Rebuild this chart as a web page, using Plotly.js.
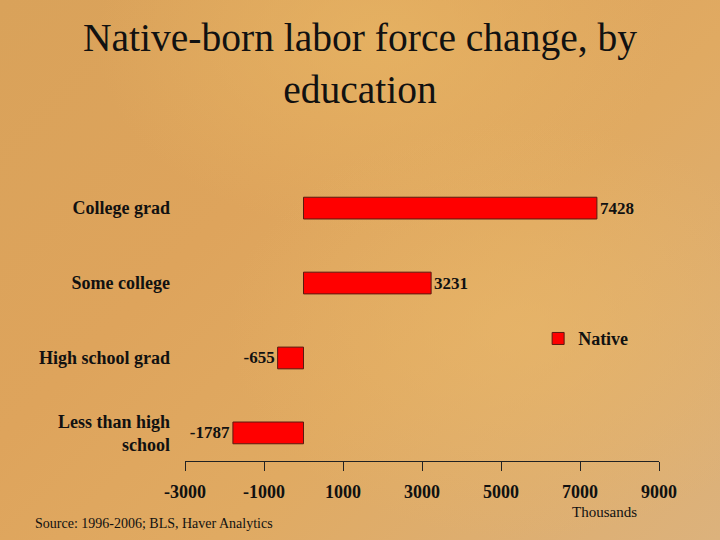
<!DOCTYPE html>
<html>
<head>
<meta charset="utf-8">
<script src="https://cdn.plot.ly/plotly-3.0.1.min.js"></script>
<style>
  html, body { margin: 0; padding: 0; width: 720px; height: 540px; overflow: hidden; }
  body {
    background:
      radial-gradient(ellipse 420px 300px at 520px 330px, rgba(235,185,105,0.55), rgba(235,185,105,0) 70%),
      radial-gradient(ellipse 380px 260px at 380px 40px, rgba(232,182,100,0.7), rgba(232,182,100,0) 75%),
      linear-gradient(135deg, #d9a25a 0%, #dea45c 35%, #e0aa62 60%, #dcb27c 100%);
  }
  #chart { width: 720px; height: 540px; }
</style>
</head>
<body>
<div id="chart"></div>
<script>
const categories = ["Less than high<br>school", "High school grad", "Some college", "College grad"];
const nativeValues = [-1787, -655, 3231, 7428];
const seriesName = "Native";
const xTicks = [-3000, -1000, 1000, 3000, 5000, 7000, 9000];

const serif = "Liberation Serif, Times New Roman, serif";

const trace = {
  type: "bar",
  orientation: "h",
  y: categories,
  x: nativeValues,
  name: seriesName,
  text: nativeValues.map(String),
  textposition: "outside",
  cliponaxis: false,
  textfont: { family: serif, size: 17, color: "#111", weight: "bold" },
  marker: { color: "#ff0000", line: { color: "#5a1a10", width: 1 } },
  width: 0.29
};

const layout = {
  width: 720, height: 540,
  paper_bgcolor: "rgba(0,0,0,0)",
  plot_bgcolor: "rgba(0,0,0,0)",
  margin: { l: 185, r: 61, t: 180, b: 79 },
  title: {
    text: "Native-born labor force change, by<br>education",
    font: { family: serif, size: 39.5, color: "#111" },
    x: 0.5, xanchor: "center", yref: "container", y: 0.905, yanchor: "top"
  },
  showlegend: true,
  legend: {
    x: 0.745, y: 0.435, xanchor: "left", yanchor: "middle",
    itemwidth: 30,
    bgcolor: "rgba(0,0,0,0)",
    font: { family: serif, size: 18, color: "#111", weight: "bold" }
  },
  xaxis: {
    range: [-3000, 9000],
    tickvals: xTicks,
    ticktext: xTicks.map(String),
    showgrid: false, zeroline: false,
    showline: true, linecolor: "#222", linewidth: 1,
    ticks: "outside", ticklen: 9, tickcolor: "#222",
    tickfont: { family: serif, size: 18, color: "#111", weight: "bold" },
    ticklabelstandoff: 5,
    title: { text: "" }
  },
  yaxis: {
    type: "category",
    range: [-0.375, 3.375],
    showgrid: false, zeroline: false, showline: false,
    ticks: "",
    tickfont: { family: serif, size: 18, color: "#111", weight: "bold" },
    ticklabelstandoff: 14
  },
  annotations: [
    { text: "Thousands", xref: "paper", yref: "paper", x: 0.885, y: -0.18,
      xanchor: "center", yanchor: "middle", showarrow: false,
      font: { family: serif, size: 15, color: "#111" } },
    { text: "Source: 1996-2006; BLS, Haver Analytics", xref: "paper", yref: "paper",
      x: -0.32, y: -0.222, xanchor: "left", yanchor: "middle", showarrow: false,
      font: { family: serif, size: 14, color: "#111" } }
  ]
};

Plotly.newPlot("chart", [trace], layout, { displayModeBar: false, staticPlot: true });
</script>
</body>
</html>
